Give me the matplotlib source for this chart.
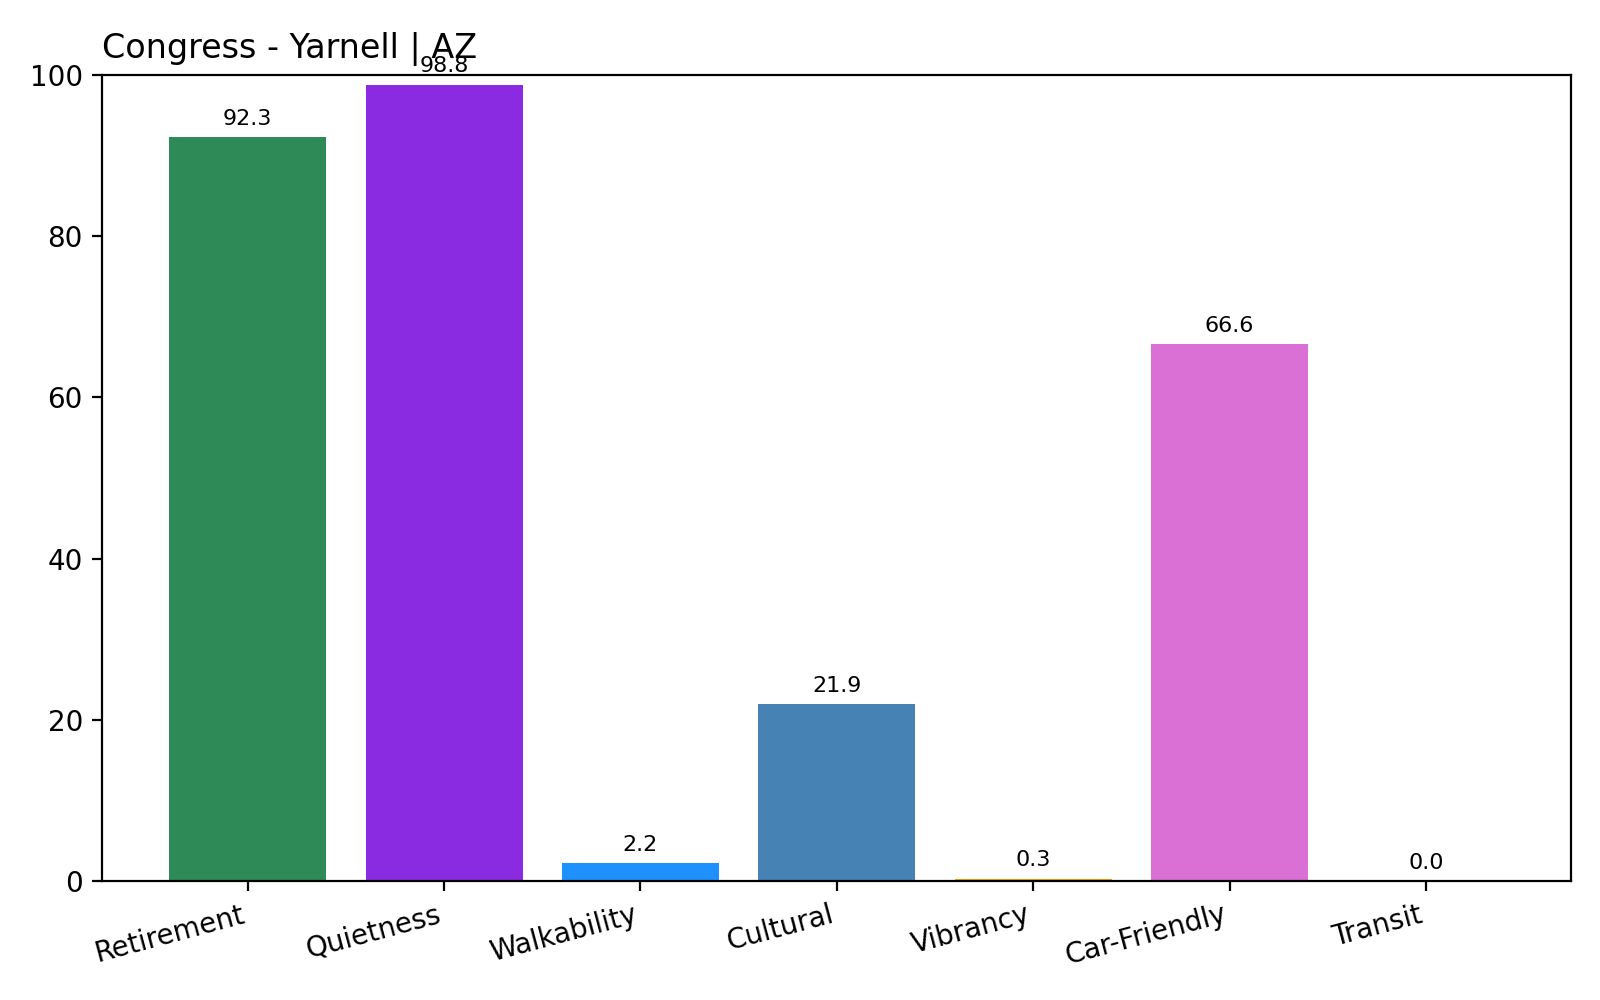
import numpy as np
import matplotlib
matplotlib.use('Agg')
import matplotlib.pyplot as plt

categories = ['Retirement', 'Quietness', 'Walkability', 'Cultural', 'Vibrancy', 'Car-Friendly', 'Transit']
scores = [92.3, 98.8, 2.2, 21.9, 0.3, 66.6, 0.0]
colors = ['seagreen', 'blueviolet', 'dodgerblue', 'steelblue', 'orange', 'orchid', 'gray']
title = "Congress - Yarnell | AZ"

fig, ax = plt.subplots(figsize=(8, 5), dpi=200)
bars = ax.bar(categories, scores, color=colors)
ax.bar_label(bars, fmt='%.1f', padding=3, fontsize=8)
ax.set_ylim(0, 100)
ax.set_title(title, loc='left')
plt.setp(ax.get_xticklabels(), rotation=15, ha='right')
fig.subplots_adjust(left=0.064, right=0.982, top=0.925, bottom=0.119)
fig.savefig('out.png')
